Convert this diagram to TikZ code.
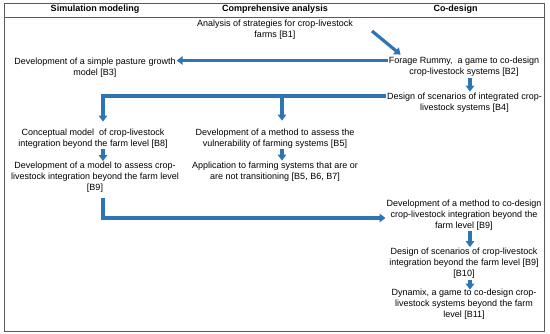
\documentclass[tikz,border=0pt]{standalone}
\usepackage{fontspec}
\setmainfont{Liberation Sans}
\usetikzlibrary{arrows.meta}
\definecolor{arrblue}{RGB}{46,117,182}
\definecolor{framegray}{RGB}{90,90,90}
\tikzset{
  txt/.style={align=center, inner sep=1pt, yshift=-1pt, font=\fontsize{9}{11}\selectfont},
  hdr/.style={inner sep=1pt, font=\fontsize{9}{11}\selectfont\bfseries},
  arr/.style={draw=arrblue, line width=3.2pt, -{Triangle[width=8.5pt,length=6pt]}},
  frm/.style={draw=framegray, line width=0.9pt}
}
\begin{document}
\begin{tikzpicture}[x=1pt,y=-1pt]
\useasboundingbox (0,0) rectangle (550,334);
\draw[frm] (4,3) rectangle (544,331);
\draw[frm] (4,17) -- (544,17);
% headers
\node[hdr] (h1) at (95,9.5) {Simulation modeling};
\node[hdr] (h2) at (275,9.5) {Comprehensive analysis};
\node[hdr] (h3) at (455.5,9.5) {Co-design};
% nodes
\node[txt] (b1) at (275,29) {Analysis of strategies for crop-livestock\\farms [B1]};
\node[txt] (b3) at (95,66.5) {Development of a simple pasture growth\\model [B3]};
\node[txt] (b2) at (464,66) {Forage Rummy,\ \ a game to co-design\\crop-livestock systems [B2]};
\node[txt] (b4) at (464.5,101.5) {Design of scenarios of integrated crop-\\livestock systems [B4]};
\node[txt] (b8) at (93,137.5) {Conceptual model\ \ of crop-livestock\\integration beyond the farm level [B8]};
\node[txt] (b9a) at (95,176.5) {Development of a model to assess crop-\\livestock integration beyond the farm level\\{}[B9]};
\node[txt] (b5) at (275,137.5) {Development of a method to assess the\\vulnerability of farming systems [B5]};
\node[txt] (b567) at (275,170.5) {Application to farming systems that are or\\are not transitioning [B5, B6, B7]};
\node[txt] (b9b) at (464,214) {Development of a method to co-design\\crop-livestock integration beyond the\\farm level [B9]};
\node[txt] (b10) at (464,262.5) {Design of scenarios of crop-livestock\\integration beyond the farm level [B9]\\{}[B10]};
\node[txt] (b11) at (464,303.5) {Dynamix, a game to co-design crop-\\livestock systems beyond the farm\\level [B11]};
% helper coordinates
\coordinate (ax) at (470,0);
\coordinate (c1) at (103,0);
\coordinate (c2) at (282,0);
\coordinate (r1) at (0,60.5);
\coordinate (r4) at (0,96);
\coordinate (r7) at (0,218);
% connectors
\draw[arr] ([xshift=18pt,yshift=-1pt]b1.east) -- ([xshift=13pt,yshift=1.5pt]b2.north west);
\draw[arr] (b2.west |- r1) -- (b3.east |- r1);
\draw[arr] (b2.south -| ax) -- (b4.north -| ax);
\draw[arr, shorten >=6pt] (b4.west |- r4) -| (b8.north -| c1);
\draw[arr, shorten >=7pt] (r4 -| c2) -- (b5.north -| c2);
\draw[arr] (b8.south -| c1) -- (b9a.north -| c1);
\draw[arr] (b5.south -| c2) -- (b567.north -| c2);
\draw[arr] ([yshift=-4pt]b9a.south -| c1) |- (b9b.west |- r7);
\draw[arr] (b9b.south -| ax) -- (b10.north -| ax);
\draw[arr, shorten <=0.5pt, shorten >=-1.5pt] (b10.south -| ax) -- (b11.north -| ax);
\end{tikzpicture}
\end{document}
